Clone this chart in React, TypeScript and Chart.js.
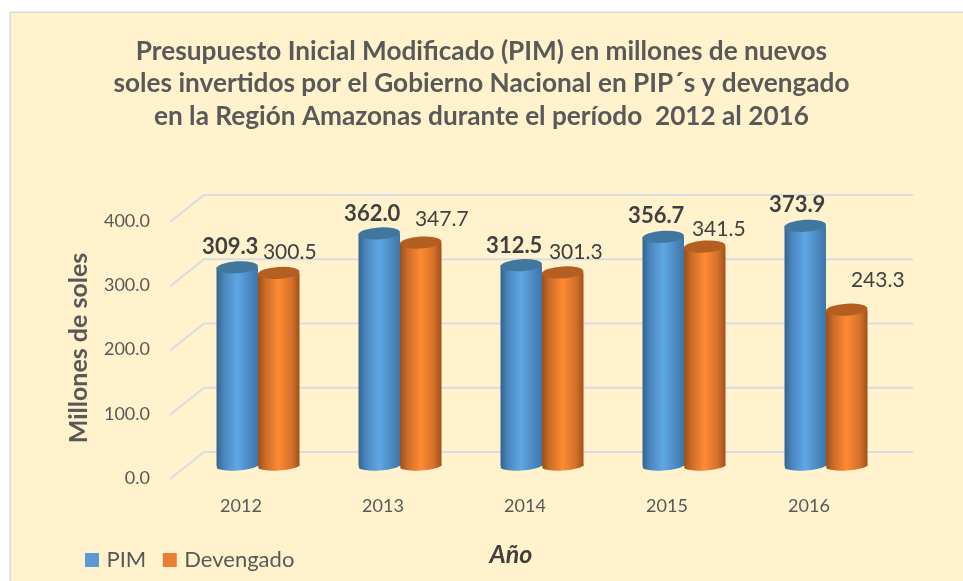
import React, { useEffect, useRef } from "react";
import { Chart, registerables } from "chart.js";

Chart.register(...registerables);

const categories = ["2012", "2013", "2014", "2015", "2016"];
const pimValues = [309.3, 362.0, 312.5, 356.7, 373.9];
const devengadoValues = [300.5, 347.7, 301.3, 341.5, 243.3];
const titleLines = [
  "Presupuesto Inicial Modificado (PIM) en millones de nuevos",
  "soles invertidos por el Gobierno Nacional en PIP´s y devengado",
  "en la Región Amazonas durante el período  2012 al 2016",
];
const yAxisTitle = "Millones de soles";
const xAxisTitle = "Año";

// Label placement relative to the top of each bar [dx, dy]
const pimLabelNudge = [[-7, -20], [-7, -20], [-7, -19], [-7, -21], [-8, -21]];
const devLabelNudge = [[11, -21], [21, -23], [13, -20], [14, -17], [31, -29]];

const FONT = "Lato, Carlito, sans-serif";
const BAR_W = 41.5;
const BLUE = "#5B9BD5";
const ORANGE = "#ED7D31";
const STYLE = [
  { edgeL: "#33658F", mid: "#5EA7E6", edgeR: "#3E76A8", cap: "#41779F" },
  { edgeL: "#9A4F1B", mid: "#FF8A33", edgeR: "#9E521C", cap: "#B55E21" },
];

function barGradient(chart: any, dsIndex: number, index: number) {
  const px = chart.scales.x ? chart.scales.x.getPixelForValue(index) : NaN;
  if (!Number.isFinite(px)) return dsIndex === 0 ? BLUE : ORANGE;
  const cx = px + (dsIndex === 0 ? -1 : 1) * BAR_W / 2;
  const s = STYLE[dsIndex];
  const g = chart.ctx.createLinearGradient(cx - BAR_W / 2, 0, cx + BAR_W / 2, 0);
  g.addColorStop(0, s.edgeL);
  g.addColorStop(0.18, dsIndex === 0 ? "#4A86BD" : "#CB6C28");
  g.addColorStop(0.5, s.mid);
  g.addColorStop(0.82, dsIndex === 0 ? "#4A86BD" : "#D2702A");
  g.addColorStop(1, s.edgeR);
  return g;
}

const sceneryPlugin = {
  id: "scenery",
  afterLayout(chart: any) {
    chart.legend.left = 68.5;
    chart.legend.top = 529;
  },
  beforeDraw(chart: any) {
    const { ctx, width, height } = chart;
    ctx.save();
    ctx.fillStyle = "#FFFFFF";
    ctx.fillRect(0, 0, width, height);
    ctx.fillStyle = "#D9D9D9";
    ctx.fillRect(9.5, 11.5, width, height);
    ctx.fillStyle = "#FFF2CC";
    ctx.fillRect(11, 13, width, height);
    ctx.restore();
  },
  beforeDatasetsDraw(chart: any) {
    const { ctx, chartArea } = chart;
    const y = chart.scales.y;
    ctx.save();
    ctx.lineWidth = 2;
    ctx.strokeStyle = "#D9DCE3";
    y.ticks.forEach((t: any) => {
      const py = y.getPixelForValue(t.value);
      ctx.beginPath();
      ctx.moveTo(chartArea.left - 17, py + 13);
      ctx.lineTo(chartArea.left + 17, py - 14);
      ctx.lineTo(chartArea.right + 16, py - 14);
      ctx.stroke();
    });
    ctx.restore();
  },
  afterDatasetsDraw(chart: any) {
    const { ctx } = chart;
    const tilt = (-3.5 * Math.PI) / 180;
    [0, 1].forEach((i) => {
      chart.getDatasetMeta(i).data.forEach((bar: any, k: number) => {
        ctx.save();
        ctx.fillStyle = barGradient(chart, i, k);
        ctx.beginPath();
        ctx.ellipse(bar.x, bar.base, BAR_W / 2, 4.5, tilt, 0, Math.PI * 2);
        ctx.fill();
        ctx.fillStyle = STYLE[i].cap;
        ctx.beginPath();
        ctx.ellipse(bar.x, bar.y, BAR_W / 2, 6, tilt, 0, Math.PI * 2);
        ctx.fill();
        ctx.restore();
      });
    });
    ctx.save();
    ctx.textAlign = "center";
    ctx.textBaseline = "middle";
    ctx.fillStyle = "#404040";
    chart.data.datasets.forEach((ds: any, i: number) => {
      const nudges = i === 0 ? pimLabelNudge : devLabelNudge;
      ctx.font = `${i === 0 ? "bold 22px" : "21px"} ${FONT}`;
      chart.getDatasetMeta(i).data.forEach((bar: any, k: number) => {
        ctx.fillText(ds.data[k].toFixed(1), bar.x + nudges[k][0], bar.y + nudges[k][1]);
      });
    });
    ctx.fillStyle = "#595959";
    ctx.font = `bold 25px ${FONT}`;
    ctx.save();
    ctx.translate(79, 348);
    ctx.rotate(-Math.PI / 2);
    ctx.fillText(yAxisTitle, 0, 0);
    ctx.restore();
    ctx.fillStyle = "#404040";
    ctx.font = `italic bold 25px ${FONT}`;
    ctx.fillText(xAxisTitle, 511, 555);
    ctx.restore();
  },
};

export default function App() {
  const ref = useRef<HTMLCanvasElement>(null);
  useEffect(() => {
    const chart = new Chart(ref.current as any, {
      type: "bar",
      data: {
        labels: categories,
        datasets: [
          { label: "PIM", data: pimValues, borderWidth: 0, backgroundColor: (c: any) => barGradient(c.chart, 0, c.dataIndex) },
          { label: "Devengado", data: devengadoValues, borderWidth: 0, backgroundColor: (c: any) => barGradient(c.chart, 1, c.dataIndex) },
        ],
      } as any,
      options: {
        responsive: false,
        animation: false,
        devicePixelRatio: 1,
        layout: { padding: { left: 66, right: 66, top: 0, bottom: 0 } },
        datasets: { bar: { categoryPercentage: (BAR_W * 2) / 142, barPercentage: 1 } },
        plugins: {
          tooltip: { enabled: false },
          title: {
            display: true,
            text: titleLines,
            color: "#595959",
            font: { family: FONT, size: 26.2, weight: "bold", lineHeight: 32.5 / 26.2 },
            padding: { top: 35, bottom: 76.5 },
          },
          legend: {
            position: "bottom",
            align: "start",
            labels: {
              boxWidth: 7,
              boxHeight: 7,
              padding: 20,
              color: "#595959",
              font: { family: FONT, size: 22 },
              generateLabels: (c: any) =>
                (Chart.defaults.plugins.legend.labels as any).generateLabels(c).map((l: any, i: number) => ({
                  ...l,
                  fillStyle: i === 0 ? BLUE : ORANGE,
                  strokeStyle: i === 0 ? BLUE : ORANGE,
                  lineWidth: 7,
                })),
            },
          },
        },
        scales: {
          x: {
            grid: { display: false, drawTicks: false },
            border: { display: false },
            afterFit: (s: any) => { s.height = 63; },
            ticks: {
              color: "#595959",
              padding: 29,
              labelOffset: -17,
              maxRotation: 0,
              font: { family: FONT, size: 18 },
            },
          },
          y: {
            min: 0,
            max: 400,
            grid: { display: false, drawTicks: false },
            border: { display: false },
            afterFit: (s: any) => { s.width = 121; },
            ticks: {
              stepSize: 100,
              color: "#595959",
              padding: 37,
              labelOffset: 12,
              font: { family: FONT, size: 18 },
              callback: (v: any) => Number(v).toFixed(1),
            },
          },
        },
      } as any,
      plugins: [sceneryPlugin],
    });
    return () => chart.destroy();
  }, []);
  return (
    <div style={{ position: "fixed", left: 0, top: 0, width: 963, height: 581 }}>
      <canvas ref={ref} width={963} height={581} style={{ display: "block" }} />
    </div>
  );
}
